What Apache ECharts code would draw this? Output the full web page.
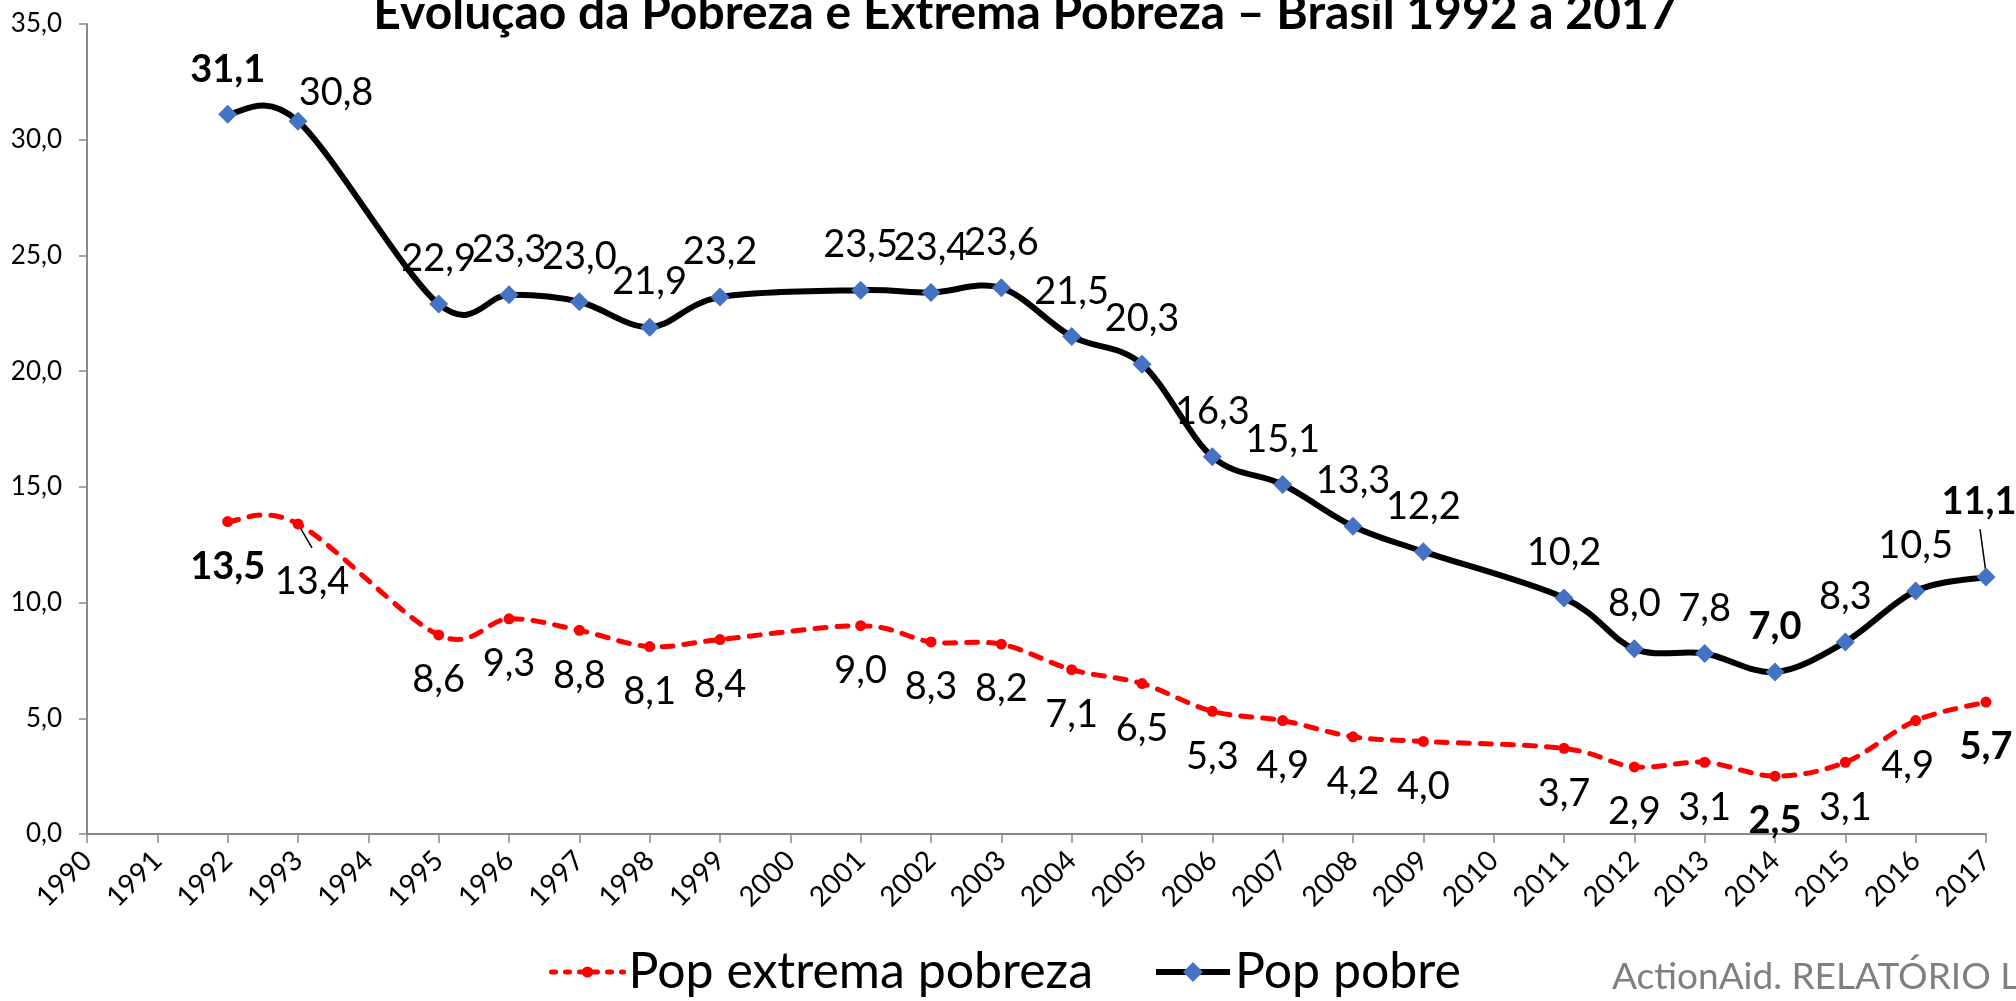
<!DOCTYPE html>
<html><head><meta charset="utf-8">
<script src="https://cdn.jsdelivr.net/npm/echarts@6/dist/echarts.min.js"></script>
<style>html,body{margin:0;padding:0;background:#fff}#c{width:2016px;height:1001px}</style>
</head><body><div id="c"></div>
<script>
// ---- data ----
const years = ['1990','1991','1992','1993','1994','1995','1996','1997','1998','1999','2000','2001','2002','2003','2004','2005','2006','2007','2008','2009','2010','2011','2012','2013','2014','2015','2016','2017'];
const popPobre   = [null,null,31.1,30.8,null,22.9,23.3,23.0,21.9,23.2,null,23.5,23.4,23.6,21.5,20.3,16.3,15.1,13.3,12.2,null,10.2,8.0,7.8,7.0,8.3,10.5,11.1];
const popExtrema = [null,null,13.5,13.4,null,8.6,9.3,8.8,8.1,8.4,null,9.0,8.3,8.2,7.1,6.5,5.3,4.9,4.2,4.0,null,3.7,2.9,3.1,2.5,3.1,4.9,5.7];
const seriesNames = ['Pop extrema pobreza','Pop pobre'];
const titleText = 'Evolução da Pobreza e Extrema Pobreza – Brasil 1992 a 2017';
const sourceText = 'ActionAid. RELATÓRIO L';

// ---- label styling (kept apart from data) ----
const pobreOffsets = {'1993':[38,-28],'2017':[-7,-75]};
const extremaOffsets = {'1993':[14,58],'2016':[-8,45]};
const boldYears = ['1992','2014','2017'];
// leader lines: pixel offsets (from, to) relative to the data point
const pobreLeaders = {'2017':[[0,-4],[-6,-48]]};
const extremaLeaders = {'1993':[[0,0],[14,24]]};

const FONT = 'Lato, "Noto Sans", sans-serif';
function fmt(v){ return v.toFixed(1).replace('.', ','); }
function build(values, offsets, defOff){
  return values.map((v,i)=>{
    if (v === null) return '-';
    const y = years[i];
    const item = {value: v, label: {offset: offsets[y] || defOff}};
    if (boldYears.includes(y)) item.label.fontWeight = 'bold';
    return item;
  });
}
// Excel-like smoothed curve (Catmull-Rom Bezier) drawn through the axes' own scales
function curveSeries(values, leaders, stroke, width, dash){
  const pts = [];
  values.forEach((v,i)=>{ if (v !== null) pts.push([i, v]); });
  return {
    type:'custom', name: 'curve_' + stroke, silent:true, z:1, data: pts,
    renderItem(params, api){
      if (params.dataIndex !== 0) return null;
      const c = pts.map(p => api.coord(p));
      let d = 'M' + c[0][0] + ' ' + c[0][1];
      for (let k = 0; k < c.length - 1; k++){
        const p0 = c[Math.max(k-1,0)], p1 = c[k], p2 = c[k+1], p3 = c[Math.min(k+2, c.length-1)];
        const a = [p1[0] + (p2[0]-p0[0])/6, p1[1] + (p2[1]-p0[1])/6];
        const b = [p2[0] - (p3[0]-p1[0])/6, p2[1] - (p3[1]-p1[1])/6];
        d += ' C' + a[0] + ' ' + a[1] + ' ' + b[0] + ' ' + b[1] + ' ' + p2[0] + ' ' + p2[1];
      }
      const children = [{type:'path', shape:{pathData:d},
        style:{fill:'none', stroke:stroke, lineWidth:width, lineDash:dash, lineCap: dash ? 'round' : 'butt', lineJoin:'round'}}];
      Object.keys(leaders).forEach(y => {
        const i = years.indexOf(y);
        const p = api.coord([i, values[i]]);
        const L = leaders[y];
        children.push({type:'line', shape:{x1:p[0]+L[0][0], y1:p[1]+L[0][1], x2:p[0]+L[1][0], y2:p[1]+L[1][1]},
          style:{stroke:'#000', lineWidth:1.5}, z2:10});
      });
      return {type:'group', children};
    }
  };
}

const chart = echarts.init(document.getElementById('c'));
const labelBase = {show:true, position:'inside', fontFamily:FONT, fontSize:38, color:'#000',
  formatter: p => fmt(p.value)};
chart.setOption({
  animation:false,
  backgroundColor:'#fff',
  grid:{left:87, right:30, top:24, bottom:167},
  xAxis:{type:'category', data:years, boundaryGap:false,
    axisLine:{lineStyle:{color:'#898989', width:2}},
    axisTick:{show:true, length:9, lineStyle:{color:'#898989', width:1.5}},
    axisLabel:{rotate:45, interval:0, margin:22, fontFamily:FONT, fontSize:28, color:'#000'}},
  yAxis:{type:'value', min:0, max:35, interval:5,
    axisLine:{show:true, lineStyle:{color:'#898989', width:2}},
    axisTick:{show:true, length:8, lineStyle:{color:'#898989', width:1.5}},
    splitLine:{show:false},
    axisLabel:{margin:25, fontFamily:FONT, fontSize:26, color:'#000', formatter: v => fmt(v)}},
  legend:[
    {data:[seriesNames[0]], left:549, top:947, padding:0, itemWidth:72, itemHeight:14, itemGap:0,
     textStyle:{fontFamily:FONT, fontSize:50, color:'#000'},
     lineStyle:{width:5, type:[4,10], cap:'round', color:'#FF0000', opacity:1}},
    {data:[seriesNames[1]], left:1153, top:947, padding:0, itemWidth:74, itemHeight:25, itemGap:0,
     textStyle:{fontFamily:FONT, fontSize:50, color:'#000'},
     lineStyle:{width:6, color:'#000', opacity:1, type:'solid'}}
  ],
  graphic:[
    {type:'text', x:1025, y:38, style:{text:titleText, font:'bold 48px '+FONT, fill:'#000', align:'center', verticalAlign:'bottom'}},
    {type:'text', x:1612, y:996, style:{text:sourceText, font:'37px '+FONT, fill:'#7f7f7f', align:'left', verticalAlign:'bottom'}}
  ],
  series:[
    curveSeries(popExtrema, extremaLeaders, '#FF0000', 5, [11,11]),
    curveSeries(popPobre, pobreLeaders, '#000000', 6, null),
    {name:seriesNames[0], type:'line', data: build(popExtrema, extremaOffsets, [0,45]),
     connectNulls:true, symbol:'circle', symbolSize:11, z:3,
     lineStyle:{color:'#FF0000', width:0, opacity:0}, itemStyle:{color:'#FF0000'},
     label:labelBase},
    {name:seriesNames[1], type:'line', data: build(popPobre, pobreOffsets, [0,-45]),
     connectNulls:true, symbol:'diamond', symbolSize:19, z:3,
     lineStyle:{color:'#000', width:0, opacity:0}, itemStyle:{color:'#4472C4'},
     label:labelBase}
  ]
});
</script></body></html>
